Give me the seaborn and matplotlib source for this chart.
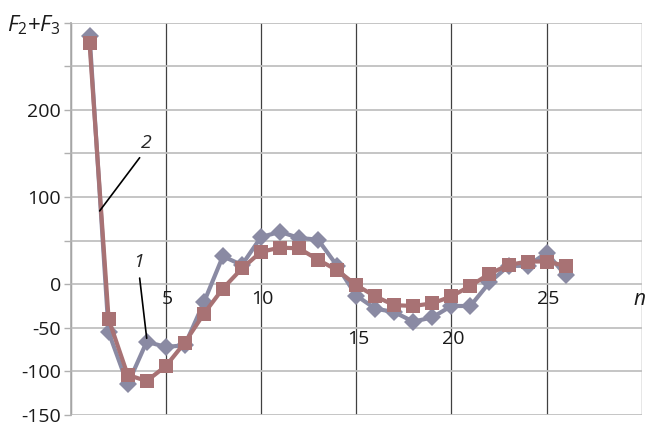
import matplotlib
matplotlib.use("Agg")
import matplotlib.pyplot as plt
import seaborn as sns
import pandas as pd

n = list(range(1, 27))
series1 = [285, -55, -115, -66, -72, -70, -21, 32, 22, 54, 60, 53, 51, 21, -13,
           -28, -32, -43, -38, -25, -25, 2, 21, 21, 36, 10]
series2 = [276, -40, -104, -111, -94, -67, -34, -5, 18, 37, 42, 41, 28, 16, -1,
           -14, -24, -25, -22, -14, -2, 12, 22, 26, 26, 21]
x_ticks = [5, 10, 15, 20, 25]
y_ticks = [-150, -100, -50, 0, 50, 100, 150, 200, 250, 300]
y_labels = ["-150", "-100", "-50", "0", "", "100", "", "200", "", r"$F_2$+$F_3$"]

sns.set_theme(style="white")
plt.rcParams["font.family"] = ["Open Sans", "DejaVu Sans"]
plt.rcParams["mathtext.fontset"] = "custom"
plt.rcParams["mathtext.rm"] = "Open Sans"
plt.rcParams["mathtext.it"] = "Open Sans:italic"

df1 = pd.DataFrame({"n": n, "v": series1})
df2 = pd.DataFrame({"n": n, "v": series2})

fig = plt.figure(figsize=(6.47, 4.25), dpi=100)
ax = fig.add_axes([0.109, 0.0235, 0.883, 0.9235])

c1 = "#8a8aa3"
c2 = "#a87274"
sns.lineplot(data=df1, x="n", y="v", ax=ax, color=c1, lw=3, marker="D",
             markersize=9.5, markeredgewidth=0, zorder=3)
sns.lineplot(data=df2, x="n", y="v", ax=ax, color=c2, lw=3, marker="s",
             markersize=10, markeredgewidth=0, zorder=4)

ax.set_xlim(0, 30)
ax.set_ylim(-150, 300)
ax.set_xticks([0] + x_ticks + [30])
ax.set_xticklabels([])
ax.set_yticks(y_ticks)
ax.set_yticklabels(y_labels, fontsize=14, color="#1a1a1a")
ax.get_yticklabels()[-1].set_fontsize(16)
ax.tick_params(axis="y", which="both", left=True, length=5, width=1,
               color="#b0b0b0", pad=2)
ax.tick_params(axis="x", length=0)
ax.set_xlabel("")
ax.set_ylabel("")

ax.yaxis.grid(True, color="#c0c0c0", lw=1.3)
ax.xaxis.grid(True, color="#404040", lw=0.9)
ax.set_axisbelow(True)
for s in ["top", "right", "bottom"]:
    ax.spines[s].set_visible(False)
ax.spines["left"].set_color("#b0b0b0")
ax.spines["left"].set_linewidth(1.3)

# x tick labels placed inside the plot as in the original
for xv, yv in [(5, -17), (10, -17), (15, -63), (20, -63), (25, -17)]:
    ax.text(xv + 0.1, yv, str(xv), ha="center", va="center", fontsize=14,
            color="#1a1a1a")
ax.text(29.9, -17, "n", ha="center", va="center", fontsize=15,
        style="italic", color="#1a1a1a")

# curve labels
ax.plot([3.63, 1.53], [145, 84], color="black", lw=1.2, zorder=5)
ax.text(4.0, 162, "2", fontsize=14, style="italic", ha="center", va="center")
ax.plot([3.63, 4.0], [7, -62], color="black", lw=1.2, zorder=5)
ax.text(3.55, 25, "1", fontsize=14, style="italic", ha="center", va="center")

fig.savefig("out.png", dpi=100)
